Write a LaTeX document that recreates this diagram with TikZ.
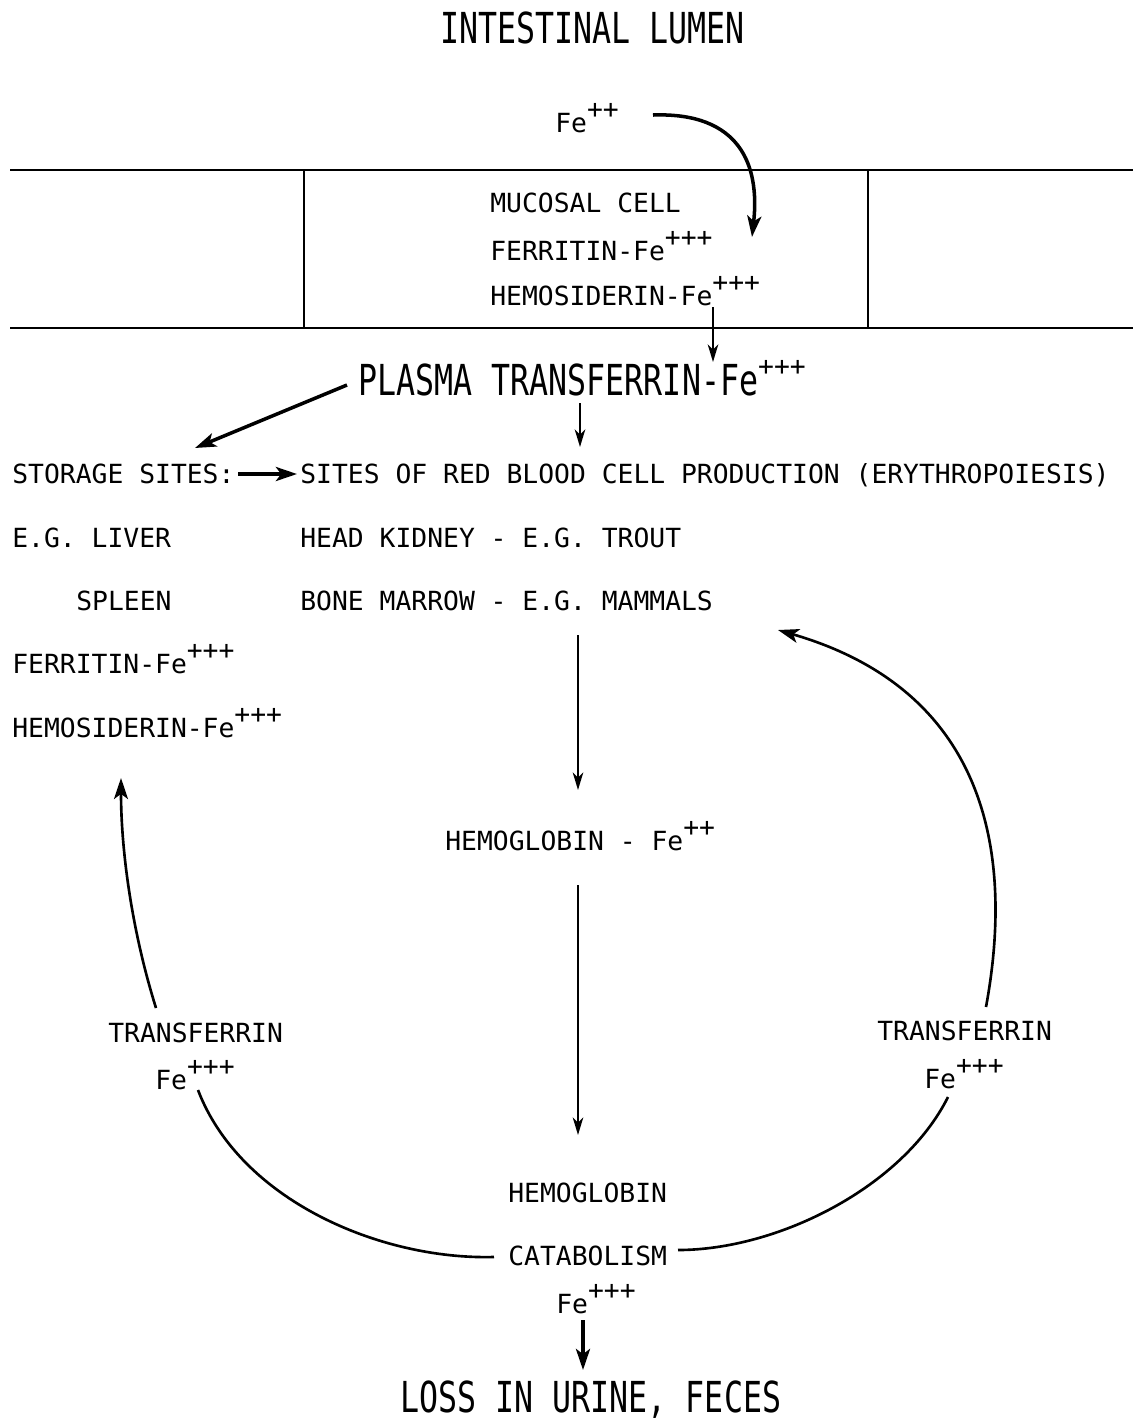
\documentclass[tikz,border=0pt]{standalone}
\usepackage{fontspec}
\usepackage{graphicx}
\usepackage{tikz}
\usetikzlibrary{calc}
\usetikzlibrary{arrows.meta}
\setmainfont{DejaVu Sans Mono}

\newcommand{\chg}[2][7.5pt]{\raisebox{#1}{\fontsize{15}{18}\selectfont #2}}
\newcommand{\tall}[1]{\scalebox{1}[1.35]{#1}}

\begin{document}
\begin{tikzpicture}[x=0.02cm,y=-0.02cm,
      txt/.style={anchor=base west,inner sep=0pt,font=\fontsize{15}{18}\selectfont},
      big/.style={anchor=base west,inner sep=0pt,font=\fontsize{18}{20}\selectfont},
      wall/.style={line width=1.5pt},
      flow/.style={line width=1.2pt,-{Stealth[length=10pt,width=6pt,inset=3pt]}},
      heavy/.style={line width=2pt,-{Stealth[length=12pt,width=8pt,inset=3pt]}},
      loop/.style={line width=1.5pt}]
      \useasboundingbox (0,0) rectangle (1136,1421);

      % mucosal cell between lumen and plasma
      \draw[wall] (10,170) -- (1133,170);
      \draw[wall] (10,328) -- (1133,328);
      \draw[wall] (304,170) -- (304,328);
      \draw[wall] (868,170) -- (868,328);

      \node[big] (lumen) at (440,43) {\tall{INTESTINAL LUMEN}};
      \node[txt] (fe0) at (555,132) {Fe\chg{++}};
      \node[txt] (mucosal) at (490,212) {MUCOSAL CELL};
      \node[txt] (ferr) at (490,260) {FERRITIN-Fe\chg{+++}};
      \node[txt] (hemo) at (490,305) {HEMOSIDERIN-Fe\chg{+++}};
      \node[big] (plasma) at (358,395) {\tall{PLASMA TRANSFERRIN-Fe}\chg[11pt]{+++}};

      \node[txt] (storage) at (12,483) {STORAGE SITES:};
      \node[txt] (sites) at (300,483) {SITES OF RED BLOOD CELL PRODUCTION (ERYTHROPOIESIS)};
      \node[txt] (liver) at (12,547) {E.G. LIVER};
      \node[txt] (kidney) at (300,547) {HEAD KIDNEY - E.G. TROUT};
      \node[txt] (spleen) at (76,610) {SPLEEN};
      \node[txt] (marrow) at (300,610) {BONE MARROW - E.G. MAMMALS};
      \node[txt] (sferr) at (12,673) {FERRITIN-Fe\chg{+++}};
      \node[txt] (shemo) at (12,737) {HEMOSIDERIN-Fe\chg{+++}};

      \node[txt] (hgb) at (445,850) {HEMOGLOBIN - Fe\chg{++}};
      \node[txt] (ltrans) at (108,1042) {TRANSFERRIN};
      \node[txt] (lfe) at (155,1089) {Fe\chg{+++}};
      \node[txt] (rtrans) at (877,1040) {TRANSFERRIN};
      \node[txt] (rfe) at (924,1088) {Fe\chg{+++}};
      \node[txt] (hgbcat) at (508,1202) {HEMOGLOBIN};
      \node[txt] (catab) at (508,1265) {CATABOLISM};
      \node[txt] (fecat) at (556,1313) {Fe\chg{+++}};
      \node[big] (loss) at (400,1412) {\tall{LOSS IN URINE, FECES}};

      % absorption
      \draw[heavy] ($(fe0.base west)+(98,-17)$) .. controls +(87,-3) and +(8,-72) .. ($(ferr.base west)+(262,-23)$);
      \draw[flow] ($(hemo.base west)+(223,2)$) -- ($(plasma.base west)+(355,-33)$);
      \draw[heavy] ($(plasma.base west)+(-11,-10)$) -- ($(storage.base west)+(183,-35)$);
      \draw[flow] ($(plasma.base west)+(222,8)$) -- ($(sites.base west)+(280,-36)$);
      \draw[heavy] ($(storage.base west)+(226,-9)$) -- ($(sites.base west)+(-3,-9)$);

      % red cell cycle
      \draw[flow] ($(marrow.base west)+(278,25)$) -- ($(hgb.base west)+(133,-60)$);
      \draw[flow] ($(hgb.base west)+(133,35)$) -- ($(hgbcat.base west)+(70,-67)$);
      \draw[heavy] ($(fecat.base west)+(27,7)$) -- ($(loss.base west)+(183,-42)$);
      \draw[loop] ($(catab.base west)+(-14,-8)$) .. controls +(-114,3) and +(42,110) .. ($(lfe.base west)+(43,1)$);
      \draw[loop,-{Stealth[length=12pt,width=8pt,inset=3pt]}] ($(ltrans.base west)+(48,-34)$) .. controls +(-25,-80) and +(0,70) .. ($(shemo.base west)+(109,41)$);
      \draw[loop] ($(rfe.base west)+(24,9)$) .. controls +(-45,90) and +(100,0) .. ($(catab.base west)+(170,-15)$);
      \draw[loop,-{Stealth[length=12pt,width=8pt,inset=3pt]}] ($(rtrans.base west)+(109,-33)$) .. controls +(29,-157) and +(207,60) .. ($(marrow.base west)+(478,20)$);
\end{tikzpicture}
\end{document}
